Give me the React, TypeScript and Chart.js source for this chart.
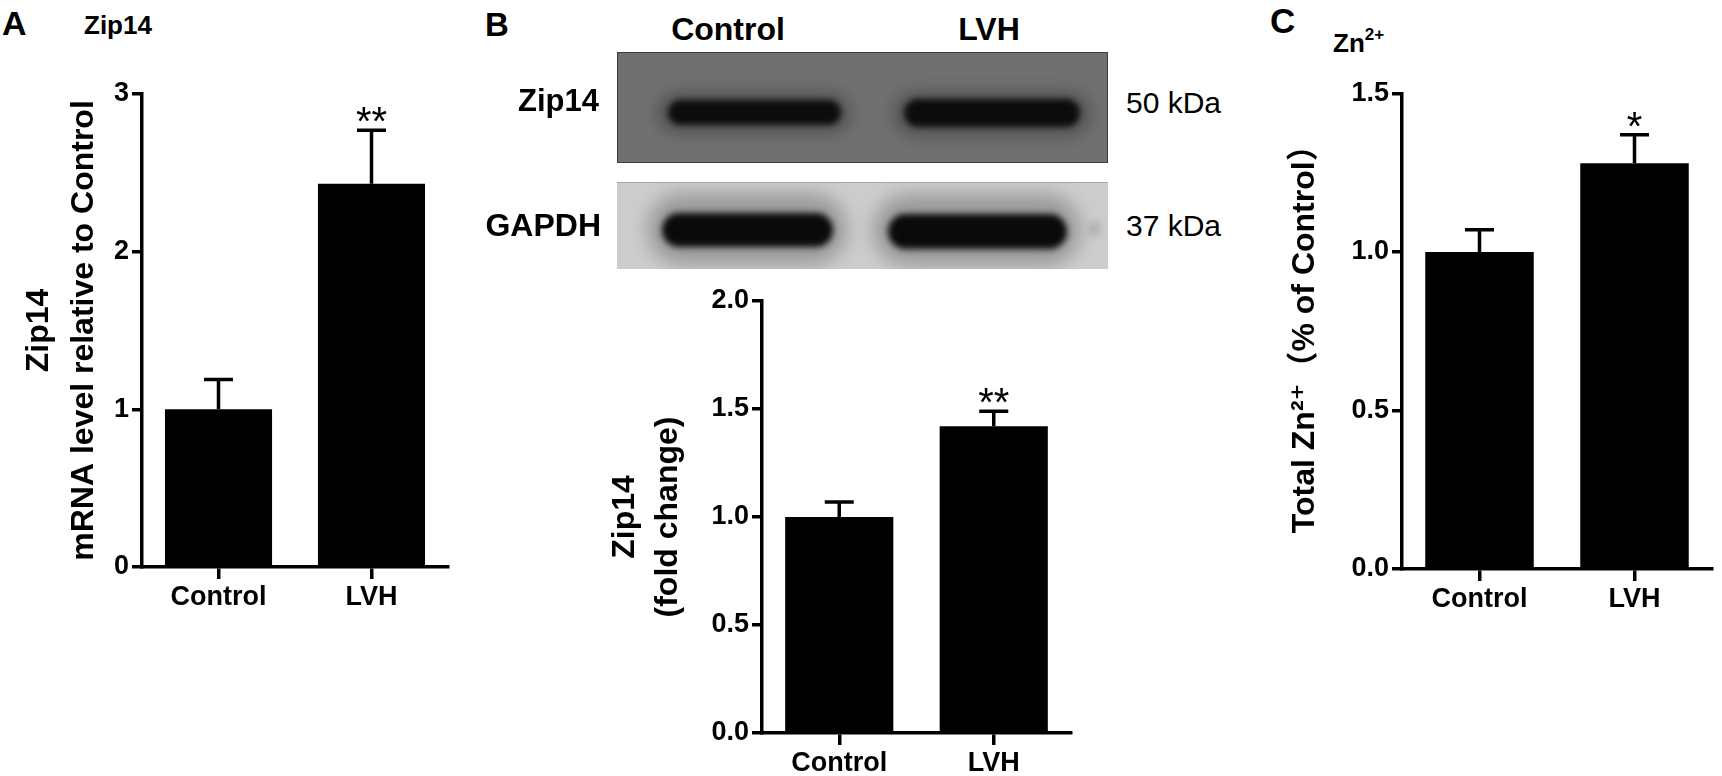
import React, { useEffect, useRef } from 'react';
import { Chart, registerables } from 'chart.js';

Chart.register(...registerables);

// ---------------- data ----------------
const categories = ['Control', 'LVH'];

const mrnaValues = [1.0, 2.43];
const mrnaErrors = [0.19, 0.34];
const mrnaStars = ['', '**'];
const mrnaTicks = [0, 1, 2, 3];

const proteinValues = [1.0, 1.42];
const proteinErrors = [0.07, 0.07];
const proteinStars = ['', '**'];
const proteinTicks = [0, 0.5, 1.0, 1.5, 2.0];

const zincValues = [1.0, 1.28];
const zincErrors = [0.07, 0.09];
const zincStars = ['', '*'];
const zincTicks = [0, 0.5, 1.0, 1.5];

const blotLanes = ['Control', 'LVH'];
const blotRows = ['Zip14', 'GAPDH'];
const blotSizes = ['50 kDa', '37 kDa'];

// ---------------- styling ----------------
const FONT = "'Liberation Sans', Arial, 'Noto Sans CJK SC', 'DejaVu Sans', sans-serif";
const AXIS_W = 3.5;

const errorBarPlugin = {
  id: 'errorBars',
  afterDatasetsDraw(chart: any, _args: any, opts: any) {
    const { ctx } = chart;
    const yScale = chart.scales.y;
    const meta = chart.getDatasetMeta(0);
    const values = chart.data.datasets[0].data as number[];
    ctx.save();
    ctx.strokeStyle = '#000';
    ctx.fillStyle = '#000';
    ctx.lineWidth = opts.lineWidth;
    meta.data.forEach((bar: any, i: number) => {
      const v = values[i];
      const e = opts.errors[i];
      const yTop = yScale.getPixelForValue(v + e);
      const x = bar.x;
      ctx.beginPath();
      ctx.moveTo(x, bar.y);
      ctx.lineTo(x, yTop);
      ctx.moveTo(x - opts.capWidth / 2, yTop);
      ctx.lineTo(x + opts.capWidth / 2, yTop);
      ctx.stroke();
      const s = opts.stars[i];
      if (s) {
        ctx.font = `40px ${FONT}`;
        ctx.textAlign = 'center';
        ctx.textBaseline = 'alphabetic';
        ctx.fillText(s, x, yTop + 5);
      }
    });
    ctx.restore();
  },
};

type PanelProps = {
  values: number[];
  errors: number[];
  stars: string[];
  ticks: number[];
  decimals: number;
  title: string | string[];
  titleLH: number;
  titlePad: number;
  x: number;
  y: number;
  w: number;
  h: number;
  yAxisWidth: number;
  xAxisHeight: number;
  padTop: number;
  padRight: number;
};

function BarPanel(p: PanelProps) {
  const ref = useRef<HTMLCanvasElement>(null);
  useEffect(() => {
    if (!ref.current) return;
    const tickFont = { family: FONT, size: 27, weight: 'bold' as const };
    const chart = new Chart(ref.current, {
      type: 'bar',
      data: {
        labels: categories,
        datasets: [
          {
            data: p.values,
            backgroundColor: '#000',
            borderWidth: 0,
            barPercentage: 0.7,
            categoryPercentage: 1,
          },
        ],
      },
      options: {
        animation: false,
        responsive: false,
        maintainAspectRatio: false,
        layout: { padding: { top: p.padTop, right: p.padRight, left: 0, bottom: 0 } },
        plugins: {
          legend: { display: false },
          tooltip: { enabled: false },
          // @ts-ignore
          errorBars: { errors: p.errors, stars: p.stars, capWidth: 29, lineWidth: AXIS_W },
        },
        scales: {
          x: {
            type: 'category',
            offset: true,
            grid: {
              display: true,
              drawOnChartArea: false,
              drawTicks: true,
              tickLength: 12,
              tickWidth: AXIS_W,
              tickColor: '#000',
              color: '#000',
              lineWidth: AXIS_W,
              offset: false,
            },
            border: { display: true, color: '#000', width: AXIS_W },
            ticks: { color: '#000', font: tickFont, padding: 2, maxRotation: 0, autoSkip: false },
            afterFit: (s: any) => {
              s.height = p.xAxisHeight;
            },
          },
          y: {
            min: p.ticks[0],
            max: p.ticks[p.ticks.length - 1],
            grid: {
              display: true,
              drawOnChartArea: false,
              drawTicks: true,
              tickLength: 10,
              tickWidth: AXIS_W,
              tickColor: '#000',
              color: '#000',
              lineWidth: AXIS_W,
            },
            border: { display: true, color: '#000', width: AXIS_W },
            ticks: {
              stepSize: p.ticks[1] - p.ticks[0],
              color: '#000',
              font: tickFont,
              padding: 3,
              callback: (v: any) => Number(v).toFixed(p.decimals),
            },
            title: {
              display: true,
              text: p.title,
              color: '#000',
              font: { family: FONT, size: 32, weight: 'bold', lineHeight: p.titleLH },
              padding: { top: p.titlePad, bottom: 0 },
            },
            afterFit: (s: any) => {
              s.width = p.yAxisWidth;
            },
          },
        },
      } as any,
      plugins: [errorBarPlugin],
    });
    return () => chart.destroy();
  }, []);
  return (
    <canvas
      ref={ref}
      width={p.w}
      height={p.h}
      style={{ position: 'absolute', left: p.x, top: p.y, width: p.w, height: p.h }}
    />
  );
}

type LabelProps = {
  x: number;
  capTop: number;
  size: number;
  bold?: boolean;
  align?: 'left' | 'center' | 'right';
  children: React.ReactNode;
};

function Label({ x, capTop, size, bold = true, align = 'left', children }: LabelProps) {
  const top = capTop - 0.13 * size;
  const W = 400;
  const left = align === 'left' ? x : align === 'center' ? x - W / 2 : x - W;
  return (
    <div
      style={{
        position: 'absolute',
        left,
        top,
        width: W,
        textAlign: align,
        fontFamily: FONT,
        fontSize: size,
        lineHeight: `${size}px`,
        fontWeight: bold ? 700 : 400,
        whiteSpace: 'nowrap',
        color: '#000',
      }}
    >
      {children}
    </div>
  );
}

function Band({ left, top, width, height, color, blur }: any) {
  return (
    <div
      style={{
        position: 'absolute',
        left,
        top,
        width,
        height,
        background: color,
        borderRadius: `${height / 2}px / ${height / 2}px`,
        filter: `blur(${blur}px)`,
      }}
    />
  );
}

function Blot() {
  return (
    <>
      {/* Zip14 membrane */}
      <div
        style={{
          position: 'absolute',
          left: 617,
          top: 52,
          width: 491,
          height: 111,
          boxSizing: 'border-box',
          background: '#707070',
          border: '1.5px solid #3a3a3a',
          overflow: 'hidden',
        }}
      >
        <Band left={38} top={38} width={196} height={44} color="#585858" blur={7} />
        <Band left={274} top={37} width={200} height={48} color="#585858" blur={7} />
        <Band left={50} top={47} width={173} height={25} color="#0c0c0c" blur={3.2} />
        <Band left={286} top={46} width={176} height={28} color="#0c0c0c" blur={3.2} />
      </div>
      {/* GAPDH membrane */}
      <div
        style={{
          position: 'absolute',
          left: 617,
          top: 182,
          width: 491,
          height: 87,
          boxSizing: 'border-box',
          background: '#cdcdcd',
          borderTop: '1.5px solid #a8a8a8',
          overflow: 'hidden',
        }}
      >
        <Band left={30} top={10} width={200} height={72} color="#9a9a9a" blur={9} />
        <Band left={256} top={11} width={208} height={72} color="#9a9a9a" blur={9} />
        <Band left={45} top={30} width={171} height={34} color="#0a0a0a" blur={3.2} />
        <Band left={271} top={31} width={179} height={35} color="#0a0a0a" blur={3.2} />
        <Band left={470} top={38} width={14} height={16} color="#b4b4b4" blur={3} />
      </div>
      <Label x={728} capTop={17} size={32} align="center">{blotLanes[0]}</Label>
      <Label x={989} capTop={17} size={32} align="center">{blotLanes[1]}</Label>
      <Label x={599} capTop={89} size={31} align="right">{blotRows[0]}</Label>
      <Label x={601} capTop={213} size={32} align="right">{blotRows[1]}</Label>
      <Label x={1126} capTop={92} size={30} bold={false}>{blotSizes[0]}</Label>
      <Label x={1126} capTop={215} size={30} bold={false}>{blotSizes[1]}</Label>
    </>
  );
}

export default function App() {
  return (
    <div
      style={{
        position: 'absolute',
        left: 0,
        top: 0,
        width: 1722,
        height: 776,
        background: '#fff',
        overflow: 'hidden',
      }}
    >
      {/* Panel A */}
      <Label x={2} capTop={10} size={34}>A</Label>
      <Label x={84} capTop={15} size={26}>Zip14</Label>
      <BarPanel
        values={mrnaValues}
        errors={mrnaErrors}
        stars={mrnaStars}
        ticks={mrnaTicks}
        decimals={0}
        title={['Zip14', 'mRNA level relative to Control']}
        titleLH={1.4}
        titlePad={16.6}
        x={0}
        y={0}
        w={460}
        h={620}
        yAxisWidth={142}
        xAxisHeight={53}
        padTop={94}
        padRight={12}
      />

      {/* Panel B */}
      <Label x={485} capTop={12} size={33}>B</Label>
      <Blot />
      <BarPanel
        values={proteinValues}
        errors={proteinErrors}
        stars={proteinStars}
        ticks={proteinTicks}
        decimals={1}
        title={['Zip14', '(fold change)']}
        titleLH={1.34}
        titlePad={13.5}
        x={590}
        y={270}
        w={500}
        h={506}
        yAxisWidth={172}
        xAxisHeight={43}
        padTop={31}
        padRight={19}
      />

      {/* Panel C */}
      <Label x={1270} capTop={8} size={35}>C</Label>
      <Label x={1333} capTop={33} size={26}>
        Zn
        <span style={{ fontSize: 17, position: 'relative', top: -12 }}>2+</span>
      </Label>
      <BarPanel
        values={zincValues}
        errors={zincErrors}
        stars={zincStars}
        ticks={zincTicks}
        decimals={1}
        title={'Total Zn²⁺（% of Control）'}
        titleLH={1.2}
        titlePad={23.8}
        x={1262}
        y={0}
        w={460}
        h={620}
        yAxisWidth={140}
        xAxisHeight={51}
        padTop={93.5}
        padRight={10}
      />
    </div>
  );
}
